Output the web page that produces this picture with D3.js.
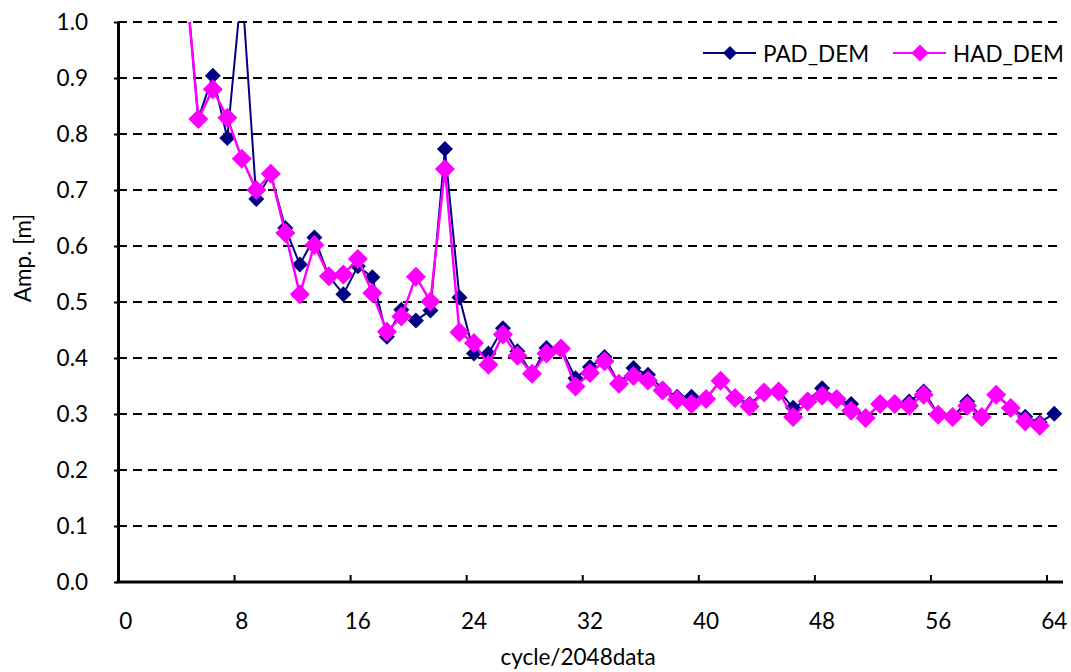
<!DOCTYPE html>
<html>
<head>
<meta charset="utf-8">
<script src="https://cdn.jsdelivr.net/npm/d3@7"></script>
<style>
body { margin: 0; background: #fff; }
text { font-family: Lato, "Open Sans", sans-serif; fill: #000; }
</style>
</head>
<body>
<svg id="chart" width="1071" height="672"></svg>
<script>
// ---- data ----
const cycles = [0,1,2,3,4,5,6,7,8,9,10,11,12,13,14,15,16,17,18,19,20,21,22,23,24,25,26,27,28,29,30,31,32,
  33,34,35,36,37,38,39,40,41,42,43,44,45,46,47,48,49,50,51,52,53,54,55,56,57,58,59,60,61,62,63,64];
const padDem = [null,null,null,null,1.12,0.827,0.904,0.793,1.065,0.684,0.728,0.632,0.567,0.615,0.546,0.514,
  0.564,0.544,0.438,0.486,0.467,0.485,0.773,0.508,0.408,0.408,0.453,0.412,0.372,0.418,0.418,0.364,0.384,
  0.402,0.354,0.382,0.370,0.345,0.331,0.331,0.327,0.360,0.329,0.318,0.339,0.342,0.311,0.325,0.346,0.327,
  0.318,0.293,0.318,0.318,0.3225,0.340,0.300,0.295,0.3225,0.295,0.335,0.311,0.295,0.285,0.3005];
const hadDem = [null,null,null,null,1.116,0.827,0.880,0.829,0.756,0.700,0.729,0.623,0.514,0.602,0.546,0.549,
  0.577,0.516,0.447,0.474,0.545,0.501,0.7375,0.446,0.427,0.388,0.442,0.404,0.372,0.408,0.417,0.349,0.373,
  0.394,0.354,0.368,0.360,0.342,0.3255,0.318,0.327,0.3595,0.3286,0.3136,0.3386,0.340,0.2946,0.3225,0.3327,
  0.327,0.306,0.293,0.318,0.318,0.3148,0.3345,0.2988,0.2946,0.3148,0.2946,0.3345,0.3107,0.2868,0.279,null];
const xTickLabels = [0,8,16,24,32,40,48,56,64];
const yTickValues = [0,0.1,0.2,0.3,0.4,0.5,0.6,0.7,0.8,0.9,1.0];
const seriesNames = ["PAD_DEM","HAD_DEM"];
const seriesColors = ["#000080","#FF00FF"];

// ---- layout ----
const pLeft = 118, pRight = 1063, pTop = 22, pBottom = 582;
const svg = d3.select("#chart");
const x = d3.scaleBand().domain(cycles).range([118.5, 1061.5]);
const cx = d => x(d) + x.bandwidth() / 2;
const y = d3.scaleLinear().domain([0, 1]).range([pBottom, pTop]);
const FS = 22.5;

// gridlines
svg.append("g").selectAll("line").data(yTickValues.filter(v => v > 0)).join("line")
  .attr("x1", pLeft).attr("x2", pRight)
  .attr("y1", d => y(d)).attr("y2", d => y(d))
  .attr("stroke", "#000").attr("stroke-width", 2).attr("stroke-dasharray", "9,6");

// y axis
const yAxis = svg.append("g").attr("transform", `translate(${pLeft},0)`)
  .call(d3.axisLeft(y).tickValues(yTickValues).tickFormat(d3.format(".1f"))
    .tickSizeInner(4).tickSizeOuter(0).tickPadding(26));
yAxis.select(".domain").attr("stroke", "#000").attr("stroke-width", 3);
yAxis.selectAll(".tick line").attr("stroke", "#000").attr("stroke-width", 2);
yAxis.selectAll(".tick text").attr("font-size", FS).attr("font-family", "Lato").attr("dy", "0.35em");

// x axis
svg.append("line").attr("x1", pLeft - 1.5).attr("x2", pRight).attr("y1", pBottom).attr("y2", pBottom)
  .attr("stroke", "#000").attr("stroke-width", 3);
svg.append("g").selectAll("line").data(xTickLabels.filter(d => d > 0)).join("line")
  .attr("x1", d => x(d)).attr("x2", d => x(d))
  .attr("y1", pBottom).attr("y2", pBottom - 7)
  .attr("stroke", "#000").attr("stroke-width", 2);
svg.append("g").selectAll("text").data(xTickLabels).join("text")
  .attr("x", d => cx(d)).attr("y", 620)
  .attr("text-anchor", "middle").attr("dominant-baseline", "central")
  .attr("font-size", FS).text(d => d);

// titles
svg.append("text").attr("transform", "translate(22,258) rotate(-90)")
  .attr("text-anchor", "middle").attr("dominant-baseline", "central")
  .attr("font-size", FS).text("Amp. [m]");
svg.append("text").attr("x", 578).attr("y", 656)
  .attr("text-anchor", "middle").attr("dominant-baseline", "central")
  .attr("font-size", FS).text("cycle/2048data");

// clip
svg.append("clipPath").attr("id", "plotclip").append("rect")
  .attr("x", pLeft).attr("y", pTop).attr("width", pRight - pLeft + 10).attr("height", pBottom - pTop);

const diamond = r => `M0,${-r}L${r},0L0,${r}L${-r},0Z`;
const series = [
  {name: seriesNames[0], vals: padDem, color: seriesColors[0], lw: 2, r: 8},
  {name: seriesNames[1], vals: hadDem, color: seriesColors[1], lw: 2.5, r: 10}
];
const plot = svg.append("g").attr("clip-path", "url(#plotclip)");
const line = d3.line().defined(d => d.v != null).x(d => cx(d.c)).y(d => y(d.v));
series.forEach(s => {
  const pts = cycles.map((c, i) => ({c, v: s.vals[i]}));
  plot.append("path").datum(pts).attr("d", line)
    .attr("fill", "none").attr("stroke", s.color).attr("stroke-width", s.lw);
  plot.append("g").selectAll("path").data(pts.filter(d => d.v != null)).join("path")
    .attr("transform", d => `translate(${cx(d.c)},${y(d.v)})`)
    .attr("d", diamond(s.r)).attr("fill", s.color);
});

// legend
const legendX = [703, 893];
series.forEach((s, i) => {
  const g = svg.append("g").attr("transform", `translate(${legendX[i]},53)`);
  g.append("line").attr("x1", 0).attr("x2", 53).attr("y1", 0).attr("y2", 0)
    .attr("stroke", s.color).attr("stroke-width", 2);
  g.append("path").attr("transform", "translate(27,0)").attr("d", diamond(i === 0 ? 7 : 8.5)).attr("fill", s.color);
  g.append("text").attr("x", 60).attr("y", 0).attr("dominant-baseline", "central")
    .attr("font-size", FS).text(s.name);
});
</script>
</body>
</html>
